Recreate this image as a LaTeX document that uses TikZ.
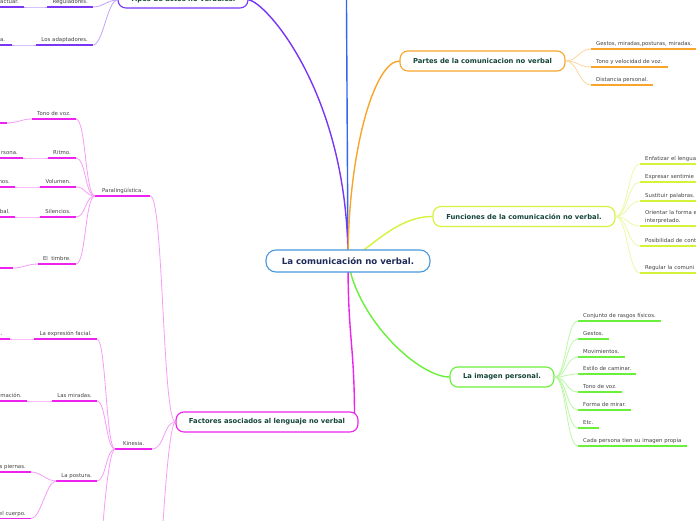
\documentclass[tikz,border=0pt]{standalone}
\usepackage{fontspec}
\setmainfont{DejaVu Sans}
\usetikzlibrary{backgrounds}

\definecolor{azul}{HTML}{3366F0}
\definecolor{morado}{HTML}{7A35F5}
\definecolor{naranja}{HTML}{F9A52C}
\definecolor{amarillo}{HTML}{D6F23A}
\definecolor{verde}{HTML}{6AF03A}
\definecolor{fucsia}{HTML}{EE22EE}
\definecolor{celeste}{HTML}{4A98DC}
\definecolor{tinta}{HTML}{15463A}
\definecolor{marino}{HTML}{1C2B58}
\definecolor{gris}{HTML}{444444}

\begin{document}
\begin{tikzpicture}[x=1pt,y=1pt,
  idea/.style={draw=#1,line width=1.1pt,fill=white,rounded corners=8pt,
    minimum height=20pt,inner sep=0pt,text=tinta,
    font=\fontsize{6.8}{8}\selectfont\bfseries},
  hoja/.style={font=\fontsize{5.4}{8}\selectfont,text=gris,
    inner xsep=5pt,inner ysep=3.2pt,text depth=0pt},
  raya/.style={draw=#1,line width=1.4pt},
  lazo/.style={draw=#1!45,line width=.8pt},
  tronco/.style={draw=#1,line width=1.4pt}]

\useasboundingbox (0,0) rectangle (696,520);

% ideas principales
\node[idea=celeste,minimum width=164pt,minimum height=22pt,rounded corners=10pt,
  text=marino,font=\fontsize{8.6}{10}\selectfont\bfseries] (central) at (348,259) {La comunicación no verbal.};
\node[idea=morado,minimum width=130pt,minimum height=16pt] (tipos) at (183,520) {Tipos de actos no verbales.};
\node[idea=naranja,minimum width=165pt] (partes) at (482.5,459) {Partes de la comunicacion no verbal};
\node[idea=amarillo,minimum width=182pt] (funciones) at (524,303.5) {Funciones de la comunicación no verbal.};
\node[idea=verde,minimum width=104pt] (imagen) at (502,143) {La imagen personal.};
\node[idea=fucsia,minimum width=182pt] (factores) at (267,98) {Factores asociados al lenguaje no verbal};

\coordinate (arriba) at (346,600);
\coordinate (abajoF) at (160,-60);
\coordinate (abajoK) at (100,-50);

\begin{scope}[on background layer]
\fill[white] (0,0) rectangle (696,520);
\draw[tronco=azul] (central.center) -- (arriba);
\draw[tronco=morado] (central.center) .. controls +(0,170) and +(15,0) .. (tipos.east);
\draw[tronco=naranja] (central.center) .. controls +(0,110) and +(-25,0) .. (partes.west);
\draw[tronco=amarillo] (central.center) .. controls +(25,15) and +(-35,0) .. (funciones.west);
\draw[tronco=verde] (central.center) .. controls +(10,-60) and +(-30,0) .. (imagen.west);
\draw[tronco=fucsia] (central.center) .. controls +(0,-80) and +(0,80) .. ([xshift=-4pt]factores.east);
\end{scope}

% partes
\foreach \n/\y/\t in {1/471/{Gestos, miradas,posturas, miradas,},2/453/{Tono y velocidad de voz.},3/435/{Distancia personal.}}{
  \node[hoja,anchor=south west] (pa\n) at (591,\y) {\t};
  \draw[raya=naranja] (pa\n.south west) -- (pa\n.south east);
  \draw[lazo=naranja] (partes.east) to[out=0,in=180,distance=12pt] (pa\n.south west);
}

% funciones
\foreach \n/\y/\t in {1/356/{Enfatizar el lengua},2/338/{Expresar sentimie},3/319/{Sustituir palabras.},
    5/274/{Posibilidad de cont},6/247/{Regular la comuni}}{
  \node[hoja,anchor=south west,text width=62pt,align=left] (fu\n) at (640,\y) {\t};
}
\node[hoja,anchor=south west,text width=62pt,align=left,text depth=8pt] (fu4) at (640,294) {Orientar la forma e\\interpretado.};
\foreach \n in {1,...,6}{
  \draw[raya=amarillo] (fu\n.south west) -- (fu\n.south east);
  \draw[lazo=amarillo] (funciones.east) to[out=0,in=180,distance=12pt] (fu\n.south west);
}

% imagen personal
\foreach \n/\y/\t in {1/199/{Conjunto de rasgos físicos.},2/181/{Gestos.},3/163/{Movimientos.},
    4/146/{Estilo de caminar.},5/128/{Tono de voz.},6/110/{Forma de mirar.},7/92/{Etc.},
    8/74/{Cada persona tien su imagen propia}}{
  \node[hoja,anchor=south west] (im\n) at (578,\y) {\t};
  \draw[raya=verde] (im\n.south west) -- (im\n.south east);
  \draw[lazo=verde] (imagen.east) to[out=0,in=180,distance=12pt] (im\n.south west);
}

% tipos
\foreach \n/\y/\t in {regul/513/{Reguladores.},adapt/475/{Los adaptadores.}}{
  \node[hoja,anchor=south east] (\n) at (93,\y) {\t};
  \draw[raya=morado] (\n.south west) -- (\n.south east);
  \draw[lazo=morado] (tipos.west) to[out=180,in=0,distance=10pt] (\n.south east);
}

% factores
\node[hoja,anchor=south west,minimum width=55pt] (para) at (95,324) {Paralingüística.};
\node[hoja,anchor=south west,minimum width=37pt] (kine) at (115,71) {Kinesia.};
\draw[raya=fucsia] (para.south west) -- (para.south east);
\draw[raya=fucsia] (kine.south west) -- (kine.south east);
\draw[lazo=fucsia] (factores.west) to[out=180,in=0,distance=13pt] (para.south east);
\draw[lazo=fucsia] (factores.west) to[out=180,in=0,distance=12pt] (kine.south east);
\draw[lazo=fucsia] (factores.west) to[out=180,in=90,distance=8pt] (abajoF);
\draw[lazo=fucsia] (kine.south west) to[out=180,in=90,distance=8pt] (abajoK);

\foreach \n/\y/\t in {tono/401/{Tono de voz.},ritmo/362/{Ritmo.},volumen/333/{Volumen.},
    silencios/303/{Silencios.},timbre/256/{El\ \ timbre.}}{
  \node[hoja,anchor=south east] (\n) at (76,\y) {\t};
  \draw[raya=fucsia] (\n.south west) -- (\n.south east);
  \draw[lazo=fucsia] (para.south west) to[out=180,in=0,distance=10pt] (\n.south east);
}

\foreach \n/\y/\t in {expresion/181/{La expresión facial.},miradas/119/{Las miradas.},postura/39/{La postura.}}{
  \node[hoja,anchor=south east] (\n) at (97,\y) {\t};
  \draw[raya=fucsia] (\n.south west) -- (\n.south east);
  \draw[lazo=fucsia] (kine.south west) to[out=180,in=0,distance=9pt] (\n.south east);
}

% hojas cortadas por el borde
\foreach \n/\m/\x/\y/\c/\t in {regul0/regul/24/513/morado/{ractuar.},adapt0/adapt/12/475/morado/{ia.},
    tono0/tono/7/397/fucsia/{},ritmo0/ritmo/23/362/fucsia/{rsona.},volumen0/volumen/15/333/fucsia/{nos.},
    silencios0/silencios/15/303/fucsia/{rbal.},timbre0/timbre/13/252/fucsia/{},
    expresion0/expresion/10/181/fucsia/{a.},miradas0/miradas/27/119/fucsia/{mación.},
    piernas/postura/31/48/fucsia/{s piernas.},cuerpo/postura/31/1.5/fucsia/{el cuerpo.}}{
  \node[hoja,anchor=south east,minimum width=20pt] (\n) at (\x,\y) {\t};
  \draw[raya=\c] (\n.south west) -- (\n.south east);
  \draw[lazo=\c] (\m.south west) to[out=180,in=0,distance=10pt] (\n.south east);
}
\end{tikzpicture}
\end{document}
